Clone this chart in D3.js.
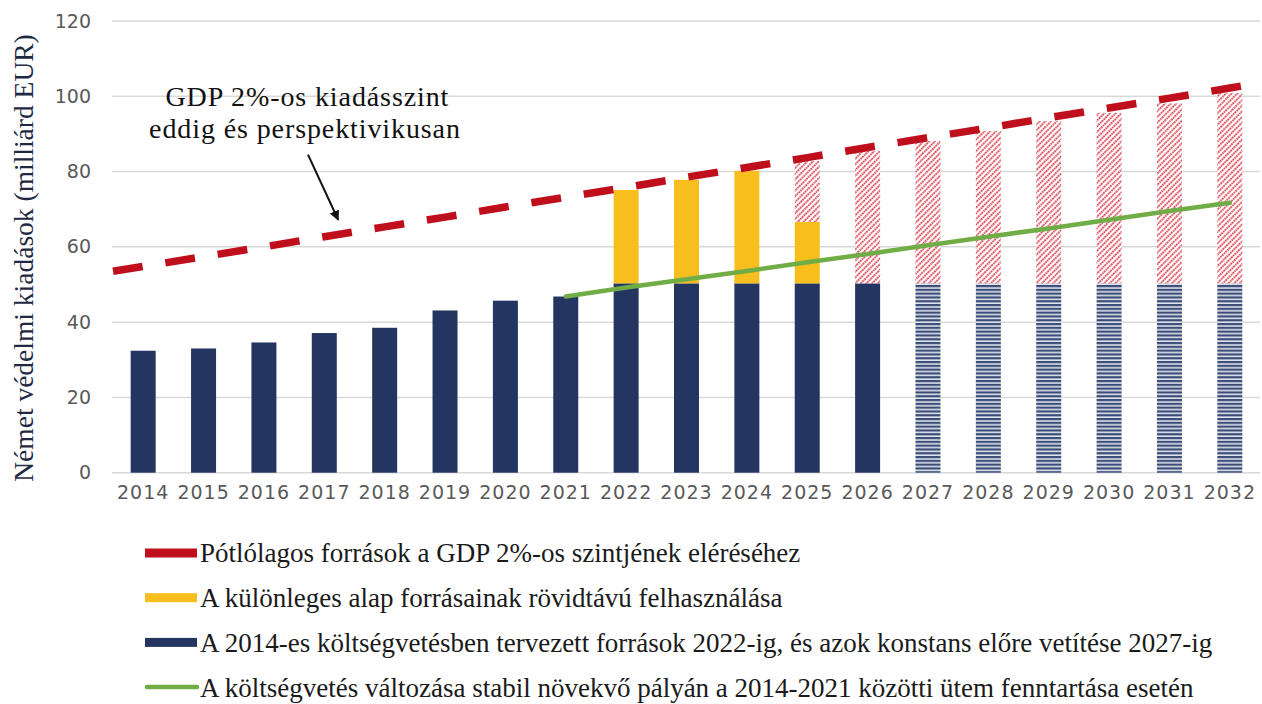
<!DOCTYPE html>
<html>
<head>
<meta charset="utf-8">
<script src="https://cdn.jsdelivr.net/npm/d3@7"></script>
<style>
  body { margin: 0; background: #fff; }
  svg { display: block; }
</style>
</head>
<body>
<script>
// Chart data (milliárd EUR)
const years = d3.range(2014, 2033);
const baseBudget = [32.4, 33.0, 34.6, 37.1, 38.5, 43.1, 45.7, 46.8, 50.3, 50.3, 50.3, 50.3, 50.3, 50.3, 50.3, 50.3, 50.3, 50.3, 50.3];
const specialFund = [0, 0, 0, 0, 0, 0, 0, 0, 24.8, 27.5, 29.9, 16.3, 0, 0, 0, 0, 0, 0, 0];
const extraToGdp = [0, 0, 0, 0, 0, 0, 0, 0, 0, 0, 0, 16.2, 35.2, 37.8, 40.5, 43.1, 45.3, 47.8, 50.6];
const gdpLevel = [54.8, 57.4, 60.0, 62.7, 65.3, 67.9, 70.6, 73.2, 75.8, 78.5, 81.1, 83.7, 86.4, 89.0, 91.6, 94.3, 96.9, 99.5, 102.2];
const trendYears = d3.range(2021, 2033);
const trendValues = [46.8, 49.2, 51.4, 53.6, 55.9, 58.1, 60.4, 62.7, 64.9, 67.2, 69.5, 71.7];
const stripedFrom = 2027;
const yTicks = [0, 20, 40, 60, 80, 100, 120];

const legendItems = [
  { label: "Pótlólagos források a GDP 2%-os szintjének eléréséhez", color: "#c00f1c", type: "rect" },
  { label: "A különleges alap forrásainak rövidtávú felhasználása", color: "#f8be1e", type: "rect" },
  { label: "A 2014-es költségvetésben tervezett források 2022-ig, és azok konstans előre vetítése 2027-ig", color: "#233560", type: "rect" },
  { label: "A költségvetés változása stabil növekvő pályán a 2014-2021 közötti ütem fenntartása esetén", color: "#70ad47", type: "line" }
];

const W = 1262, H = 704;
const serif = "'Liberation Serif', 'Times New Roman', serif";
const sans = "'DejaVu Sans', sans-serif";

const svg = d3.select("body").append("svg")
  .attr("width", W)
  .attr("height", H);

const defs = svg.append("defs");

// red dotted diagonal hatch
const hatch = defs.append("pattern")
  .attr("id", "redHatch")
  .attr("patternUnits", "userSpaceOnUse")
  .attr("width", 4)
  .attr("height", 5)
  .attr("patternTransform", "rotate(45)");
hatch.append("rect").attr("width", 4).attr("height", 5).attr("fill", "#fff");
hatch.append("line")
  .attr("x1", 1).attr("y1", 0).attr("x2", 1).attr("y2", 5)
  .attr("stroke", "#d42232")
  .attr("stroke-width", 1.6)
  .attr("stroke-dasharray", "1.7,0.8");

// navy horizontal stripes
const stripes = defs.append("pattern")
  .attr("id", "navyStripes")
  .attr("patternUnits", "userSpaceOnUse")
  .attr("width", 8)
  .attr("height", 3.8);
stripes.append("rect").attr("width", 8).attr("height", 3.8).attr("fill", "#dfe3eb");
stripes.append("rect").attr("width", 8).attr("height", 2.2).attr("fill", "#3b4c78");

defs.append("marker")
  .attr("id", "arrowHead")
  .attr("viewBox", "0 0 10 10")
  .attr("refX", 9).attr("refY", 5)
  .attr("markerWidth", 5).attr("markerHeight", 5)
  .attr("orient", "auto")
  .append("path")
  .attr("d", "M0,0 L10,5 L0,10 z")
  .attr("fill", "#111");

// Scales
const x = d3.scaleBand()
  .domain(years)
  .range([113, 1260])
  .paddingInner(0.586)
  .paddingOuter(0.293);

const y = d3.scaleLinear()
  .domain([0, 120])
  .range([472.7, 21]);

const xAt = i => x(years[0]) + x.bandwidth() / 2 + i * x.step();

// Gridlines
svg.append("g")
  .selectAll("line")
  .data(yTicks)
  .enter()
  .append("line")
  .attr("x1", 112)
  .attr("x2", 1260)
  .attr("y1", d => y(d))
  .attr("y2", d => y(d))
  .attr("stroke", "#d9d9d9")
  .attr("stroke-width", 1.5);

// Y axis
const yAxis = svg.append("g")
  .attr("transform", "translate(100,0)")
  .call(d3.axisLeft(y).tickValues(yTicks).tickSize(0).tickPadding(9));
yAxis.select(".domain").remove();
yAxis.selectAll("text")
  .style("font-family", sans)
  .style("font-size", "19px")
  .attr("fill", "#595959");

// X axis
const xAxis = svg.append("g")
  .attr("transform", `translate(0,${y(0)})`)
  .call(d3.axisBottom(x).tickSize(0).tickPadding(13));
xAxis.select(".domain").remove();
xAxis.selectAll("text")
  .style("font-family", sans)
  .style("font-size", "19px")
  .style("letter-spacing", "1px")
  .attr("fill", "#595959");

// Bars
const barData = years.map((yr, i) => ({
  year: yr,
  base: baseBudget[i],
  special: specialFund[i],
  extra: extraToGdp[i]
}));

const bars = svg.append("g");

bars.selectAll(".base")
  .data(barData)
  .enter()
  .append("rect")
  .attr("x", d => x(d.year))
  .attr("width", x.bandwidth())
  .attr("y", d => y(d.base))
  .attr("height", d => y(0) - y(d.base))
  .attr("fill", d => d.year >= stripedFrom ? "url(#navyStripes)" : "#233560");

bars.selectAll(".special")
  .data(barData.filter(d => d.special > 0))
  .enter()
  .append("rect")
  .attr("x", d => x(d.year))
  .attr("width", x.bandwidth())
  .attr("y", d => y(d.base + d.special))
  .attr("height", d => y(d.base) - y(d.base + d.special))
  .attr("fill", "#f8be1e");

bars.selectAll(".extra")
  .data(barData.filter(d => d.extra > 0))
  .enter()
  .append("rect")
  .attr("x", d => x(d.year))
  .attr("width", x.bandwidth())
  .attr("y", d => y(d.base + d.special + d.extra))
  .attr("height", d => y(d.base + d.special) - y(d.base + d.special + d.extra))
  .attr("fill", "url(#redHatch)");

// Green trend line
svg.append("path")
  .datum(trendYears.map((yr, i) => ({ year: yr, v: trendValues[i] })))
  .attr("fill", "none")
  .attr("stroke", "#70ad47")
  .attr("stroke-width", 4.5)
  .attr("stroke-linecap", "round")
  .attr("d", d3.line()
    .x(d => x(d.year) + x.bandwidth() / 2)
    .y(d => y(d.v)));

// GDP 2% dashed line, stretched to the plot edges
const n = gdpLevel.length;
const gdpPts = gdpLevel.map((v, i) => ({ i, v }));
gdpPts.unshift({ i: -0.5, v: gdpLevel[0] - (gdpLevel[1] - gdpLevel[0]) / 2 });
gdpPts.push({ i: n - 0.5, v: gdpLevel[n - 1] + (gdpLevel[n - 1] - gdpLevel[n - 2]) / 2 });

svg.append("path")
  .datum(gdpPts)
  .attr("fill", "none")
  .attr("stroke", "#c00f1c")
  .attr("stroke-width", 7.5)
  .attr("stroke-dasharray", "30,23")
  .attr("d", d3.line().x(d => xAt(d.i)).y(d => y(d.v)));

// Annotation
const note = svg.append("text")
  .attr("text-anchor", "middle")
  .style("font-family", serif)
  .style("font-size", "28px")
  .style("letter-spacing", "0.9px")
  .attr("fill", "#111");
note.append("tspan").attr("x", xAt(2.72)).attr("y", y(97.5)).text("GDP 2%-os kiadásszint");
note.append("tspan").attr("x", xAt(2.68)).attr("y", y(89)).text("eddig és perspektivikusan");

svg.append("line")
  .attr("x1", xAt(2.73)).attr("y1", y(84.5))
  .attr("x2", xAt(3.23)).attr("y2", y(67.2))
  .attr("stroke", "#111")
  .attr("stroke-width", 2)
  .attr("marker-end", "url(#arrowHead)");

// Y label
svg.append("text")
  .attr("transform", "translate(33,258) rotate(-90)")
  .attr("text-anchor", "middle")
  .style("font-family", serif)
  .style("font-size", "27.5px")
  .attr("fill", "#1f2944")
  .text("Német védelmi kiadások (milliárd EUR)");

// Legend
const legend = svg.append("g").attr("transform", "translate(145,553)");
const rows = legend.selectAll("g")
  .data(legendItems)
  .enter()
  .append("g")
  .attr("transform", (d, i) => `translate(0,${i * 44.7})`);

rows.filter(d => d.type === "rect")
  .append("rect")
  .attr("x", 0).attr("y", -4.5)
  .attr("width", 52).attr("height", 9)
  .attr("fill", d => d.color);

rows.filter(d => d.type === "line")
  .append("line")
  .attr("x1", 2).attr("x2", 52)
  .attr("stroke", d => d.color)
  .attr("stroke-width", 4.5)
  .attr("stroke-linecap", "round");

rows.append("text")
  .attr("x", 55)
  .attr("dy", "0.35em")
  .style("font-family", serif)
  .style("font-size", "27px")
  .attr("fill", "#1a1a1a")
  .text(d => d.label);
</script>
</body>
</html>
